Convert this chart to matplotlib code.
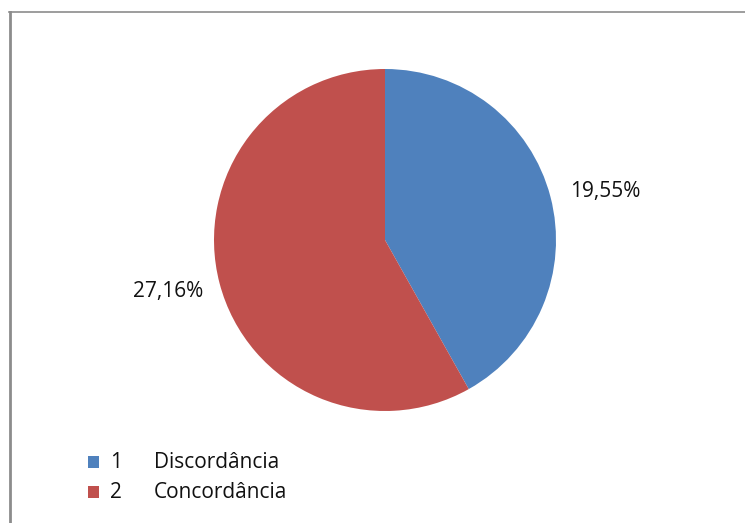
import matplotlib
matplotlib.use("Agg")
import matplotlib.pyplot as plt
from matplotlib.patches import Rectangle
from matplotlib.lines import Line2D

codes = ["1", "2"]
names = ["Discordância", "Concordância"]
values = [19.55, 27.16]
colors = ["#4F81BD", "#C0504D"]

W, H = 745, 523
fig = plt.figure(figsize=(W / 100, H / 100), dpi=100)
plt.rcParams['font.family'] = ['Open Sans', 'DejaVu Sans']

cx, cy, r = 385, 240, 171
ax = fig.add_axes([(cx - r) / W, 1 - (cy + r) / H, 2 * r / W, 2 * r / H])
labels = [f"{v:.2f}%".replace(".", ",") for v in values]
wedges, texts = ax.pie(values, colors=colors, startangle=90, counterclock=False,
                       labels=labels, labeldistance=1.31,
                       wedgeprops=dict(linewidth=0),
                       textprops=dict(fontsize=15, color="#111111"))
nudges = [(0.02, -0.05), (0.0, 0.03)]
for t, (dx, dy) in zip(texts, nudges):
    t.set_ha("center")
    t.set_va("center")
    x, y = t.get_position()
    t.set_position((x + dx, y + dy))
ax.set_xlim(-1, 1)
ax.set_ylim(-1, 1)
ax.set_aspect("equal")
ax.axis("off")

# frame lines
fig.add_artist(Line2D([10 / W, 10 / W], [0, 1 - 12 / H], color="#8c8c8c", lw=2.0, transform=fig.transFigure))
fig.add_artist(Line2D([9 / W, 1], [1 - 12 / H, 1 - 12 / H], color="#8c8c8c", lw=1.2, transform=fig.transFigure))

# legend
rows_y = [462, 492]
for code, name, col, y in zip(codes, names, colors, rows_y):
    fig.add_artist(Rectangle((88 / W, 1 - (y + 6) / H), 11 / W, 12 / H, facecolor=col,
                             edgecolor="none", transform=fig.transFigure))
    fig.text(110 / W, 1 - y / H, code, fontsize=15, va="center", ha="left", color="#111111")
    fig.text(154 / W, 1 - y / H, name, fontsize=15, va="center", ha="left", color="#111111")

fig.savefig("out.png", dpi=100, facecolor="white")
